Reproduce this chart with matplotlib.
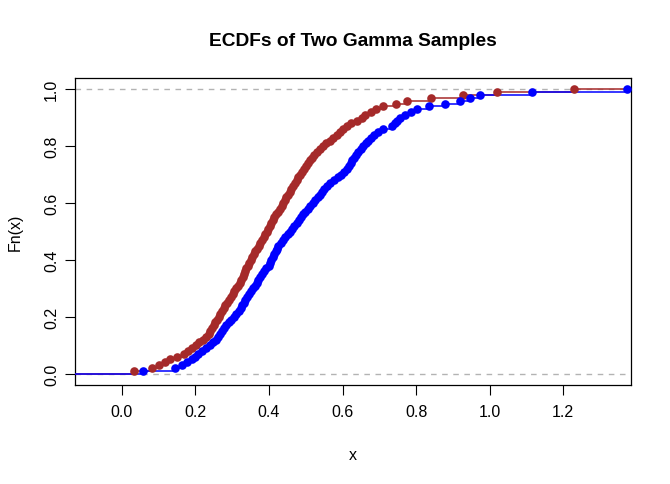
import numpy as np
import matplotlib
matplotlib.use("Agg")
from matplotlib import pyplot as plt

# sorted sample values (quantiles, F = i/100)
red_sample = [
    0.033, 0.082, 0.100, 0.118, 0.131, 0.150, 0.168, 0.180, 0.192, 0.201,
    0.210, 0.222, 0.230, 0.236, 0.241, 0.246, 0.250, 0.254, 0.259, 0.263,
    0.268, 0.272, 0.277, 0.281, 0.286, 0.291, 0.297, 0.302, 0.306, 0.311,
    0.316, 0.322, 0.325, 0.329, 0.332, 0.336, 0.339, 0.343, 0.347, 0.351,
    0.355, 0.359, 0.363, 0.367, 0.372, 0.377, 0.381, 0.386, 0.390, 0.394,
    0.398, 0.402, 0.406, 0.410, 0.415, 0.418, 0.424, 0.430, 0.435, 0.439,
    0.443, 0.446, 0.451, 0.456, 0.461, 0.466, 0.471, 0.476, 0.480, 0.485,
    0.490, 0.494, 0.500, 0.507, 0.513, 0.518, 0.523, 0.530, 0.538, 0.547,
    0.556, 0.565, 0.574, 0.584, 0.593, 0.602, 0.612, 0.624, 0.640, 0.652,
    0.661, 0.677, 0.692, 0.711, 0.745, 0.775, 0.840, 0.927, 1.019, 1.229,
]
blue_sample = [
    0.057, 0.145, 0.163, 0.178, 0.190, 0.200, 0.208, 0.218, 0.228, 0.240,
    0.248, 0.255, 0.262, 0.268, 0.273, 0.279, 0.284, 0.291, 0.298, 0.304,
    0.310, 0.318, 0.323, 0.327, 0.331, 0.336, 0.340, 0.345, 0.350, 0.356,
    0.362, 0.367, 0.371, 0.375, 0.380, 0.387, 0.393, 0.399, 0.403, 0.407,
    0.411, 0.415, 0.418, 0.422, 0.426, 0.432, 0.438, 0.445, 0.451, 0.457,
    0.463, 0.469, 0.475, 0.481, 0.488, 0.493, 0.499, 0.506, 0.512, 0.519,
    0.526, 0.534, 0.540, 0.545, 0.550, 0.557, 0.567, 0.577, 0.587, 0.596,
    0.603, 0.611, 0.617, 0.622, 0.627, 0.632, 0.637, 0.643, 0.650, 0.657,
    0.664, 0.670, 0.677, 0.686, 0.696, 0.711, 0.734, 0.742, 0.749, 0.756,
    0.770, 0.786, 0.802, 0.835, 0.878, 0.920, 0.946, 0.974, 1.114, 1.372,
]
x_ticks = [0.0, 0.2, 0.4, 0.6, 0.8, 1.0, 1.2]
y_ticks = [0.0, 0.2, 0.4, 0.6, 0.8, 1.0]
XLIM = (-0.127, 1.384)

plt.rcParams['font.family'] = ['Liberation Sans', 'DejaVu Sans']


def draw_ecdf(ax, sample, color):
    xs = np.sort(np.asarray(sample))
    n = len(xs)
    fn = np.arange(1, n + 1) / n
    # horizontal pieces only (R's verticals = FALSE)
    left = np.concatenate([[XLIM[0]], xs])
    right = np.concatenate([xs, [XLIM[1]]])
    lev = np.concatenate([[0.0], fn])
    ax.hlines(lev, left, right, colors=color, linewidth=1.1, zorder=3)
    ax.plot(xs, fn, 'o', color=color, markersize=6.2, markeredgewidth=0, zorder=4)


fig = plt.figure(figsize=(6.7, 4.85), dpi=100)
ax = fig.add_axes([75 / 670, 1 - 386 / 485, 556 / 670, 307 / 485])

for h in (0.0, 1.0):
    ax.axhline(h, color='#B3B3B3', linewidth=1.0, linestyle=(0, (4, 4)), zorder=1)

draw_ecdf(ax, red_sample, '#A52A2A')
draw_ecdf(ax, blue_sample, '#0000FF')

ax.set_xlim(*XLIM)
ax.set_ylim(-0.04, 1.04)
ax.set_xticks(x_ticks)
ax.set_xticklabels([f"{v:.1f}" for v in x_ticks])
ax.set_yticks(y_ticks)
ax.set_yticklabels([f"{v:.1f}" for v in y_ticks], rotation=90, va='center')
ax.tick_params(axis='both', length=6.9, width=0.8, labelsize=11.5, color='black')
ax.tick_params(axis='x', pad=7)
ax.tick_params(axis='y', pad=4.5)
for s in ax.spines.values():
    s.set_linewidth(0.9)
    s.set_color('black')

fig.text(353 / 670, 1 - 42 / 485, "ECDFs of Two Gamma Samples", ha='center', va='center',
         fontsize=13.8, weight='bold')
fig.text(353 / 670, 1 - 456 / 485, "x", ha='center', va='center', fontsize=11.5)
fig.text(15 / 670, 1 - 232 / 485, "Fn(x)", ha='center', va='center', fontsize=11.5,
         rotation=90)

plt.savefig("out.png", dpi=100)
plt.close()
